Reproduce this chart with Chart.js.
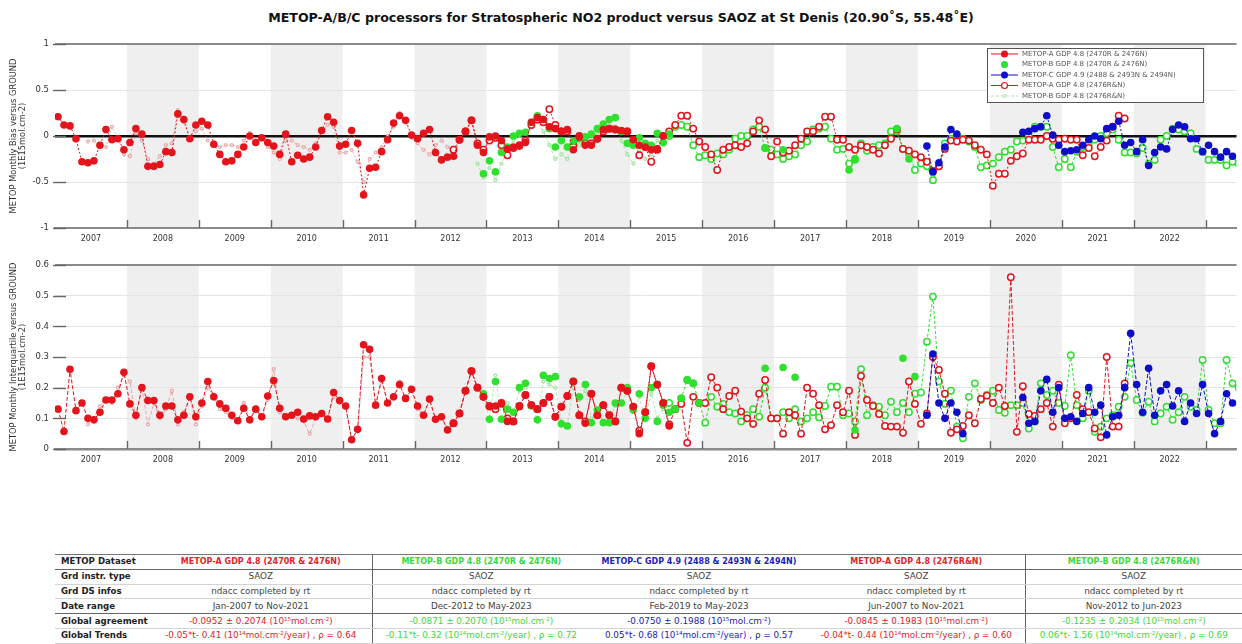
<!DOCTYPE html>
<html>
<head>
<meta charset="utf-8">
<script src="https://cdn.jsdelivr.net/npm/chart.js@4.4.0/dist/chart.umd.min.js"></script>
<style>
  body { margin: 0; background: #fff; width: 1242px; height: 644px; overflow: hidden; position: relative; font-family: 'DejaVu Sans', sans-serif; }
  #title { position: absolute; left: 0; top: 10px; width: 1242px; text-align: center; font-weight: bold; font-size: 12.6px; color: #111; }
  .panel { position: absolute; left: 0; width: 1242px; height: 220px; }
  #topPanel { top: 30px; }
  #botPanel { top: 250px; }
  #stats { position: absolute; left: 55px; top: 554px; width: 1187px; border-collapse: collapse; table-layout: fixed; font-size: 8.8px; color: #444; border-top: 1px solid #777; }
  #stats td { height: 13.8px; line-height: 13px; padding: 0 2px; text-align: center; white-space: nowrap; overflow: hidden; border-bottom: 1px solid #d4d4d4; }
  #stats td.lab { text-align: left; font-weight: bold; color: #222; padding-left: 6px; font-size: 8.6px; }
  #stats tr.head td { font-weight: bold; font-size: 8px; border-bottom: 1px solid #666; }
  #stats tr.head td.lab { font-size: 8.6px; }
  #stats tr.sep td { border-bottom: 1px solid #666; }
  #stats td.vr { border-right: 1px solid #666; }
  #stats sup { font-size: 5.5px; vertical-align: 3px; line-height: 0; }
  .r { color: #e0242b !important; }
  .g { color: #3bd83b !important; }
  .b { color: #1c22b8 !important; }
</style>
</head>
<body>
<div id="title">METOP-A/B/C processors for Stratospheric NO2 product versus SAOZ at St Denis (20.90˚S, 55.48˚E)</div>
<div class="panel" id="topPanel"><canvas id="biasChart"></canvas></div>
<div class="panel" id="botPanel"><canvas id="iqrChart"></canvas></div>

<table id="stats">
  <colgroup><col style="width:95px"><col style="width:222px"><col style="width:218px"><col style="width:218px"><col style="width:217px"><col style="width:217px"></colgroup>
  <tr class="head"><td class="lab">METOP Dataset</td><td class="r vr">METOP-A GDP 4.8 (2470R &amp; 2476N)</td><td class="g">METOP-B GDP 4.8 (2470R &amp; 2476N)</td><td class="b">METOP-C GDP 4.9 (2488 &amp; 2493N &amp; 2494N)</td><td class="r vr">METOP-A GDP 4.8 (2476R&amp;N)</td><td class="g">METOP-B GDP 4.8 (2476R&amp;N)</td></tr>
  <tr><td class="lab">Grd instr. type</td><td class="vr">SAOZ</td><td>SAOZ</td><td>SAOZ</td><td class="vr">SAOZ</td><td>SAOZ</td></tr>
  <tr><td class="lab">Grd DS infos</td><td class="vr">ndacc completed by rt</td><td>ndacc completed by rt</td><td>ndacc completed by rt</td><td class="vr">ndacc completed by rt</td><td>ndacc completed by rt</td></tr>
  <tr class="sep"><td class="lab">Date range</td><td class="vr">Jan-2007 to Nov-2021</td><td>Dec-2012 to May-2023</td><td>Feb-2019 to May-2023</td><td class="vr">Jun-2007 to Nov-2021</td><td>Nov-2012 to Jun-2023</td></tr>
  <tr><td class="lab">Global agreement</td><td class="r vr">-0.0952 ± 0.2074 (10<sup>15</sup>mol.cm<sup>-2</sup>)</td><td class="g">-0.0871 ± 0.2070 (10<sup>15</sup>mol.cm<sup>-2</sup>)</td><td class="b">-0.0750 ± 0.1988 (10<sup>15</sup>mol.cm<sup>-2</sup>)</td><td class="r vr">-0.0845 ± 0.1983 (10<sup>15</sup>mol.cm<sup>-2</sup>)</td><td class="g">-0.1235 ± 0.2034 (10<sup>15</sup>mol.cm<sup>-2</sup>)</td></tr>
  <tr><td class="lab">Global Trends</td><td class="r vr">-0.05*t- 0.41 (10<sup>14</sup>mol.cm<sup>-2</sup>/year) , ρ = 0.64</td><td class="g">-0.11*t- 0.32 (10<sup>14</sup>mol.cm<sup>-2</sup>/year) , ρ = 0.72</td><td class="b">0.05*t- 0.68 (10<sup>14</sup>mol.cm<sup>-2</sup>/year) , ρ = 0.57</td><td class="r vr">-0.04*t- 0.44 (10<sup>14</sup>mol.cm<sup>-2</sup>/year) , ρ = 0.60</td><td class="g">0.06*t- 1.56 (10<sup>14</sup>mol.cm<sup>-2</sup>/year) , ρ = 0.69</td></tr>
</table>

<script>
// ── Axis data ──
const X_MIN = 2007;
const X_MAX = 2023.43;
const YEAR_LABELS = ['2007', '2008', '2009', '2010', '2011', '2012', '2013', '2014', '2015', '2016', '2017', '2018', '2019', '2020', '2021', '2022'];
const SHADED_YEARS = [2008, 2010, 2012, 2014, 2016, 2018, 2020, 2022];
const BOUNDARY_YEARS = [2008, 2009, 2010, 2011, 2012, 2013, 2014, 2015, 2016, 2017, 2018, 2019, 2020, 2021, 2022, 2023];

const SERIES_LABELS = [
  'METOP-A GDP 4.8 (2470R & 2476N)',
  'METOP-B GDP 4.8 (2470R & 2476N)',
  'METOP-C GDP 4.9 (2488 & 2493N & 2494N)',
  'METOP-A GDP 4.8 (2476R&N)',
  'METOP-B GDP 4.8 (2476R&N)'
];

// first month of each monthly series
const START_A1 = '2007-01';
const START_A2 = '2007-06';
const START_B1 = '2012-12';
const START_B2 = '2012-11';
const START_C = '2019-02';

// ── Monthly bias (1E15 mol.cm-2) ──
const BIAS_A1 = [
  0.21, 0.12, 0.11, -0.03, -0.28, -0.29, -0.27, -0.10, 0.07, -0.04, -0.03, -0.15,
  -0.07, 0.08, 0.02, -0.33, -0.33, -0.31, -0.17, -0.18, 0.24, 0.18, -0.03, 0.12,
  0.16, 0.12, -0.09, -0.20, -0.28, -0.27, -0.20, -0.12, 0.00, -0.07, -0.02, -0.07,
  -0.11, -0.20, 0.02, -0.28, -0.21, -0.25, -0.23, -0.12, 0.06, 0.21, 0.15, -0.11,
  -0.09, 0.06, -0.08, -0.64, -0.35, -0.34, -0.17, -0.04, 0.14, 0.22, 0.17, 0.01,
  -0.03, 0.03, 0.07, -0.18, -0.26, -0.23, -0.22, -0.04, 0.05, 0.17, -0.10, -0.18,
  -0.01, 0.00, -0.05, -0.14, -0.12, -0.11, -0.07, 0.15, 0.20, 0.18, 0.10, 0.08,
  0.05, 0.07, -0.15, -0.01, -0.10, -0.10, -0.03, 0.07, 0.08, 0.07, 0.06, 0.05,
  -0.04, -0.10, -0.12, -0.15, -0.14, 0.00
];
const BIAS_A2 = [
  -0.06, -0.05, -0.12, -0.12, 0.10, -0.02, -0.20,
  -0.22, 0.03, -0.05, -0.25, -0.30, -0.22, -0.10, -0.08, 0.28, 0.15, -0.03, 0.05,
  0.08, -0.05, -0.10, -0.12, -0.10, -0.10, -0.12, -0.05, 0.03, -0.05, -0.02, -0.12,
  -0.18, -0.25, -0.05, -0.05, -0.10, -0.12, -0.15, -0.08, 0.05, 0.12, 0.10, -0.18,
  -0.18, -0.15, -0.28, -0.50, -0.25, -0.18, -0.12, 0.00, 0.10, 0.25, 0.15, -0.02,
  -0.08, -0.15, -0.20, -0.10, -0.05, -0.12, -0.15, -0.04, 0.05, 0.17, -0.08, -0.15,
  -0.05, -0.02, -0.10, -0.21, -0.13, -0.10, -0.05, 0.12, 0.18, 0.15, 0.29, 0.12,
  0.05, 0.05, -0.10, 0.00, -0.08, -0.08, -0.03, 0.05, 0.08, 0.07, 0.05, 0.05,
  -0.05, -0.21, -0.12, -0.28, -0.15, 0.00, 0.05, 0.12, 0.22, 0.22, 0.08, -0.06,
  -0.12, -0.20, -0.37, -0.15, -0.12, -0.10, -0.12, -0.08, 0.05, 0.17, 0.07, -0.22,
  -0.06, -0.18, -0.16, -0.10, -0.03, 0.05, 0.05, 0.10, 0.21, 0.21, -0.04, -0.04,
  -0.12, -0.15, -0.10, -0.12, -0.15, -0.19, -0.10, -0.03, 0.07, -0.14, -0.16, -0.20,
  -0.23, -0.28, -0.38, -0.33, -0.14, -0.05, -0.06, -0.04, -0.05, -0.10, -0.15, -0.20,
  -0.54, -0.41, -0.41, -0.27, -0.22, -0.19, -0.04, -0.04, -0.04, 0.00, -0.03, -0.04,
  -0.03, -0.04, -0.04, -0.21, -0.13, -0.22, -0.12, -0.05, 0.10, 0.22, 0.19
];
const BIAS_B1 = [
  -0.41,
  -0.27, -0.39, -0.18, -0.12, 0.00, 0.03, 0.04, 0.15, 0.22, 0.18, 0.08, -0.12,
  -0.05, -0.12, -0.06, -0.03, -0.01, 0.02, 0.08, 0.13, 0.18, 0.20, 0.05, -0.08,
  -0.10, -0.02, -0.08, -0.10, 0.03, -0.07, 0.02, null, null, null, null, null,
  null, null, null, null, null, null, null, null, null, null, -0.13, null,
  null, -0.15, null, null, null, null, null, null, null, null, null, null,
  -0.37, -0.26, null, null, null, null, null, null, 0.08, null, -0.25
];
const BIAS_B2 = [
  -0.30, -0.45,
  -0.35, -0.48, -0.30, -0.15, -0.05, 0.00, 0.05, 0.10, 0.15, 0.05, -0.10, -0.25,
  -0.20, -0.25, -0.15, -0.10, -0.08, -0.05, 0.02, 0.10, 0.15, 0.10, -0.05, -0.20,
  -0.30, -0.15, -0.25, -0.20, -0.05, -0.10, 0.00, 0.10, 0.12, 0.10, -0.10, -0.23,
  -0.21, -0.25, -0.19, -0.20, -0.15, -0.03, 0.00, 0.00, 0.07, 0.10, -0.13, -0.15,
  -0.20, -0.25, -0.22, -0.20, -0.10, -0.06, 0.07, 0.08, 0.10, -0.03, -0.15, -0.14,
  -0.30, -0.25, -0.08, -0.16, -0.12, -0.10, -0.08, 0.05, 0.05, -0.14, -0.19, -0.37,
  -0.30, -0.33, -0.48, -0.33, -0.08, -0.03, 0.00, -0.03, -0.06, -0.12, -0.34, -0.32,
  -0.30, -0.23, -0.17, -0.15, -0.06, -0.05, 0.00, 0.10, 0.10, 0.10, -0.12, -0.34,
  -0.25, -0.34, -0.17, -0.12, -0.10, -0.04, 0.00, 0.03, 0.07, -0.04, -0.18, -0.18,
  -0.19, -0.13, -0.30, -0.26, -0.04, 0.00, 0.08, 0.07, 0.05, 0.03, -0.14, -0.17,
  -0.26, -0.26, -0.26, -0.32, -0.28, -0.30
];
const BIAS_C = [
  -0.11, -0.39, -0.29, -0.12, 0.07, 0.02, null, null, null, null, null,
  null, null, null, null, null, 0.04, 0.05, 0.08, 0.10, 0.22, 0.01, -0.10,
  -0.17, -0.16, -0.15, -0.10, -0.04, 0.00, -0.03, 0.08, 0.10, 0.16, -0.10, -0.07,
  -0.17, -0.04, -0.32, -0.18, -0.12, -0.14, 0.07, 0.12, 0.10, -0.03, -0.03, -0.17,
  -0.10, -0.17, -0.23, -0.17, -0.22
];

// ── Monthly interquartile (1E15 mol.cm-2) ──
const IQR_A1 = [
  0.13, 0.057, 0.26, 0.125, 0.15, 0.10, 0.095, 0.12, 0.16, 0.16, 0.18, 0.25,
  0.147, 0.11, 0.20, 0.158, 0.158, 0.11, 0.14, 0.14, 0.095, 0.11, 0.17, 0.105,
  0.15, 0.22, 0.17, 0.147, 0.133, 0.11, 0.092, 0.133, 0.095, 0.13, 0.105, 0.173,
  0.223, 0.133, 0.105, 0.11, 0.12, 0.098, 0.108, 0.105, 0.116, 0.098, 0.184, 0.158,
  0.14, 0.03, 0.064, 0.34, 0.325, 0.143, 0.23, 0.15, 0.17, 0.21, 0.165, 0.195,
  0.14, 0.11, 0.163, 0.097, 0.105, 0.062, 0.084, 0.116, 0.19, 0.254, 0.20, 0.17,
  0.138, 0.14, 0.147, 0.09, 0.09, 0.138, 0.176, 0.143, 0.13, 0.15, 0.17, 0.105,
  0.138, 0.173, 0.22, 0.11, 0.084, 0.18, 0.11, 0.143, 0.11, 0.09, 0.20, 0.19,
  0.138, 0.05, 0.12, 0.27, 0.21, 0.15, 0.075
];
const IQR_A2 = [
  0.08, 0.10, 0.14, 0.16, 0.15, 0.20, 0.24,
  0.22, 0.10, 0.20, 0.08, 0.15, 0.10, 0.13, 0.19, 0.08, 0.12, 0.17, 0.08,
  0.14, 0.20, 0.17, 0.13, 0.12, 0.10, 0.09, 0.15, 0.10, 0.13, 0.10, 0.16,
  0.26, 0.12, 0.10, 0.11, 0.10, 0.09, 0.05, 0.10, 0.11, 0.10, 0.17, 0.15,
  0.14, 0.03, 0.06, 0.30, 0.30, 0.14, 0.22, 0.15, 0.17, 0.22, 0.16, 0.19,
  0.13, 0.11, 0.16, 0.10, 0.10, 0.07, 0.084, 0.116, 0.19, 0.254, 0.20, 0.17,
  0.14, 0.13, 0.15, 0.10, 0.09, 0.14, 0.176, 0.143, 0.13, 0.15, 0.17, 0.105,
  0.138, 0.173, 0.22, 0.11, 0.09, 0.18, 0.11, 0.143, 0.11, 0.09, 0.20, 0.19,
  0.138, 0.06, 0.12, 0.27, 0.21, 0.15, 0.08, 0.13, 0.147, 0.02, 0.17, 0.15,
  0.15, 0.234, 0.20, 0.13, 0.173, 0.19, 0.122, 0.10, 0.082, 0.18, 0.225, 0.10,
  0.10, 0.05, 0.12, 0.11, 0.05, 0.20, 0.18, 0.143, 0.064, 0.078, 0.143, 0.12,
  0.19, 0.046, 0.238, 0.16, 0.14, 0.114, 0.075, 0.073, 0.073, 0.053, 0.22, 0.147,
  0.082, 0.116, 0.30, 0.258, 0.18, 0.053, 0.064, 0.075, 0.11, 0.084, 0.163, 0.174,
  0.15, 0.20, 0.14, 0.56, 0.056, 0.205, 0.114, 0.108, 0.13, 0.15, 0.073, 0.21,
  0.084, 0.10, 0.176, 0.13, 0.12, 0.067, 0.038, 0.30, 0.073, 0.073, 0.214
];
const IQR_B1 = [
  0.18,
  0.097, 0.22, 0.097, 0.13, 0.12, 0.20, 0.214, 0.14, 0.095, 0.24, 0.23, 0.236,
  0.082, 0.075, 0.22, 0.17, 0.21, 0.086, 0.127, 0.086, 0.086, 0.15, 0.15, 0.20,
  0.127, 0.18, 0.10, 0.20, 0.09, 0.143, 0.12, 0.13, 0.165, 0.225, 0.214, 0.15,
  null, null, null, null, null, null, null, null, null, null, 0.263, null,
  null, 0.266, null, 0.234, null, null, null, null, null, null, null, null,
  null, 0.062, null, null, null, null, null, null, null, 0.296, null, 0.236
];
const IQR_B2 = [
  0.20, 0.17,
  0.10, 0.24, 0.10, 0.15, 0.12, 0.19, 0.20, 0.14, 0.10, 0.22, 0.21, 0.20,
  0.09, 0.08, 0.20, 0.16, 0.19, 0.10, 0.12, 0.09, 0.10, 0.14, 0.15, 0.19,
  0.12, 0.17, 0.10, 0.18, 0.10, 0.13, 0.15, 0.13, 0.165, 0.225, 0.214, 0.15,
  0.086, 0.17, 0.138, 0.147, 0.12, 0.116, 0.09, 0.11, 0.13, 0.105, 0.20, 0.10,
  0.10, 0.12, 0.10, 0.13, 0.09, 0.10, 0.12, 0.103, 0.14, 0.203, 0.203, 0.11,
  0.116, 0.09, 0.26, 0.11, 0.143, 0.138, 0.11, 0.154, 0.12, 0.15, 0.12, 0.18,
  0.184, 0.35, 0.497, 0.22, 0.147, 0.19, 0.073, 0.035, 0.17, 0.214, 0.16, 0.176,
  0.19, 0.127, 0.118, 0.143, 0.143, 0.15, 0.067, 0.09, 0.214, 0.176, 0.19, 0.15,
  0.14, 0.306, 0.143, 0.10, 0.19, 0.056, 0.073, 0.10, 0.11, 0.138, 0.17, 0.28,
  0.16, 0.118, 0.154, 0.09, 0.116, 0.138, 0.095, 0.12, 0.17, 0.138, 0.127, 0.29,
  0.127, 0.084, 0.084, 0.29, 0.214, 0.20
];
const IQR_C = [
  0.11, 0.31, 0.15, 0.10, 0.15, 0.12, 0.05, null, null, null, null,
  null, null, null, null, null, 0.168, 0.084, 0.09, 0.19, 0.227, 0.12, 0.20,
  0.10, 0.105, 0.09, 0.116, 0.20, 0.12, 0.143, 0.046, 0.105, 0.11, 0.20, 0.377,
  0.21, 0.12, 0.263, 0.11, 0.19, 0.21, 0.14, 0.19, 0.09, 0.15, 0.116, 0.21,
  0.116, 0.05, 0.09, 0.18, 0.15
];

// ── Colours ──
const RED = '#e3141b';
const GREEN = '#2fe02f';
const BLUE = '#0e0ec8';
const RED_FAINT = 'rgba(215,120,120,0.55)';
const GREEN_FAINT = 'rgba(120,215,120,0.6)';
const A2_FULL_FROM = 2012.5;   // before this the 2476R&N series is drawn faint
const B2_FULL_FROM = 2015.5;

Chart.defaults.font.family = "'DejaVu Sans', sans-serif";
Chart.defaults.color = '#333';

function monthPoints(start, values) {
  const [y0, m0] = start.split('-').map(Number);
  return values.map((v, i) => ({ x: y0 + (m0 - 1 + i + 0.5) / 12, y: v }));
}

function buildDatasets(a1, b1, c, a2, b2, dash) {
  const early = (ctx, from) => ctx.raw && ctx.raw.x < from;
  return [
    {
      label: SERIES_LABELS[0], data: monthPoints(START_A1, a1),
      borderColor: RED, borderWidth: 1, borderDash: dash,
      pointRadius: 3.8, pointBackgroundColor: RED, pointBorderColor: RED, pointBorderWidth: 0,
      legendLine: RED, legendRadius: 3.5, legendFill: RED
    },
    {
      label: SERIES_LABELS[1], data: monthPoints(START_B1, b1), showLine: false,
      borderColor: GREEN, pointRadius: 3.8, pointBackgroundColor: GREEN, pointBorderColor: GREEN, pointBorderWidth: 0,
      legendLine: null, legendRadius: 3.5, legendFill: GREEN
    },
    {
      label: SERIES_LABELS[2], data: monthPoints(START_C, c),
      borderColor: BLUE, borderWidth: 1, borderDash: dash,
      pointRadius: 3.8, pointBackgroundColor: BLUE, pointBorderColor: BLUE, pointBorderWidth: 0,
      legendLine: BLUE, legendRadius: 3.5, legendFill: BLUE
    },
    {
      label: SERIES_LABELS[3], data: monthPoints(START_A2, a2),
      borderColor: RED, borderWidth: 1, borderDash: dash,
      segment: { borderColor: ctx => ctx.p0.parsed.x < A2_FULL_FROM ? RED_FAINT : RED },
      pointRadius: ctx => early(ctx, A2_FULL_FROM) ? 1.4 : 3.2,
      pointBackgroundColor: '#fff',
      pointBorderColor: ctx => early(ctx, A2_FULL_FROM) ? RED_FAINT : RED,
      pointBorderWidth: 1.5,
      legendLine: RED, legendRadius: 3, legendFill: '#fff', legendStroke: RED
    },
    {
      label: SERIES_LABELS[4], data: monthPoints(START_B2, b2),
      borderColor: GREEN, borderWidth: 1, borderDash: [3, 2],
      segment: { borderColor: ctx => ctx.p0.parsed.x < B2_FULL_FROM ? GREEN_FAINT : GREEN },
      pointRadius: ctx => early(ctx, B2_FULL_FROM) ? 1.4 : 3.2,
      pointBackgroundColor: '#fff',
      pointBorderColor: ctx => early(ctx, B2_FULL_FROM) ? GREEN_FAINT : GREEN,
      pointBorderWidth: 1.5,
      legendLine: GREEN_FAINT, legendDash: [3, 2], legendRadius: 1.5, legendFill: '#fff', legendStroke: GREEN_FAINT
    }
  ];
}

// ── Plugins ──
const yearBands = {
  id: 'yearBands',
  beforeDraw(chart) {
    const { ctx, chartArea: a, scales: { x } } = chart;
    ctx.save();
    ctx.fillStyle = '#efefef';
    SHADED_YEARS.forEach(yr => {
      const x1 = Math.max(a.left, x.getPixelForValue(yr));
      const x2 = Math.min(a.right, x.getPixelForValue(yr + 1));
      if (x2 > x1) ctx.fillRect(x1, a.top, x2 - x1, a.bottom - a.top);
    });
    ctx.restore();
  }
};

const innerTicks = {
  id: 'innerTicks',
  afterDraw(chart) {
    const { ctx, chartArea: a, scales: { x, y } } = chart;
    ctx.save();
    ctx.strokeStyle = '#666';
    ctx.lineWidth = 1.4;
    BOUNDARY_YEARS.forEach(yr => {
      const px = Math.round(x.getPixelForValue(yr)) + 0.5;
      if (px > a.right) return;
      ctx.beginPath(); ctx.moveTo(px, a.bottom); ctx.lineTo(px, a.bottom - 8); ctx.stroke();
    });
    y.ticks.forEach(t => {
      const py = Math.round(y.getPixelForValue(t.value)) + 0.5;
      ctx.beginPath(); ctx.moveTo(a.left - 2, py); ctx.lineTo(a.left + 11, py); ctx.stroke();
    });
    ctx.restore();
  }
};

const boxLegend = {
  id: 'boxLegend',
  afterDraw(chart) {
    const { ctx, chartArea: a } = chart;
    const x0 = a.left + 932, y0 = a.top + 4, w = 216, h = 54;
    ctx.save();
    ctx.fillStyle = '#fff';
    ctx.fillRect(x0, y0, w, h);
    ctx.strokeStyle = '#555';
    ctx.lineWidth = 1;
    ctx.strokeRect(x0 + 0.5, y0 + 0.5, w, h);
    ctx.font = "7px 'DejaVu Sans', sans-serif";
    ctx.textBaseline = 'middle';
    chart.data.datasets.forEach((ds, i) => {
      const yy = y0 + 6 + i * 10.5;
      if (ds.legendLine) {
        ctx.strokeStyle = ds.legendLine;
        ctx.setLineDash(ds.legendDash || []);
        ctx.beginPath(); ctx.moveTo(x0 + 4, yy); ctx.lineTo(x0 + 31, yy); ctx.stroke();
        ctx.setLineDash([]);
      }
      ctx.beginPath();
      ctx.arc(x0 + 17.5, yy, ds.legendRadius, 0, Math.PI * 2);
      ctx.fillStyle = ds.legendFill;
      ctx.fill();
      if (ds.legendStroke) { ctx.strokeStyle = ds.legendStroke; ctx.lineWidth = 1.2; ctx.stroke(); ctx.lineWidth = 1; }
      ctx.fillStyle = '#555';
      ctx.fillText(ds.label, x0 + 35, yy);
    });
    ctx.restore();
  }
};

function panelOptions(yMin, yMax, step, zeroColor, yTitle, padTop, xAxisHeight) {
  return {
    responsive: true,
    maintainAspectRatio: false,
    animation: false,
    layout: { padding: { top: padTop, right: 0, bottom: 0, left: 0 } },
    plugins: { legend: { display: false }, tooltip: { enabled: false } },
    elements: { line: { tension: 0, fill: false } },
    scales: {
      x: {
        type: 'linear', min: X_MIN, max: X_MAX,
        afterBuildTicks: s => { s.ticks = YEAR_LABELS.map(yr => ({ value: Number(yr) + 0.5 })); },
        afterFit: s => { s.height = xAxisHeight; },
        ticks: { autoSkip: false, maxRotation: 0, padding: 6, font: { size: 8 }, color: '#333', callback: (v, i) => YEAR_LABELS[i] },
        grid: { color: 'rgba(0,0,0,0)', drawTicks: false },
        border: { display: true, color: '#8a8a8a', width: 2 }
      },
      y: {
        min: yMin, max: yMax,
        afterFit: s => { s.width = 55; },
        ticks: { stepSize: step, padding: 6, font: { size: 8.5 }, color: '#333', callback: v => String(Math.round(v * 10) / 10) },
        grid: {
          drawTicks: false,
          color: c => c.tick.value === yMax ? '#8a8a8a' : (Math.abs(c.tick.value) < 1e-9 ? zeroColor : '#e4e4e4'),
          lineWidth: c => c.tick.value === yMax ? 2 : (Math.abs(c.tick.value) < 1e-9 ? 2.5 : 1)
        },
        border: { display: false },
        title: { display: true, text: yTitle, font: { size: 8.3, lineHeight: 1.05 }, color: '#333', padding: { top: 9.5, bottom: 0 } }
      }
    }
  };
}

// ── Bias panel ──
new Chart(document.getElementById('biasChart'), {
  type: 'line',
  data: { datasets: buildDatasets(BIAS_A1, BIAS_B1, BIAS_C, BIAS_A2, BIAS_B2, [2, 2]) },
  options: panelOptions(-1, 1, 0.5, '#111', ['METOP Monthly Bias versus GROUND', '(1E15mol.cm-2)'], 14, 22),
  plugins: [yearBands, innerTicks, boxLegend]
});

// ── Interquartile panel ──
new Chart(document.getElementById('iqrChart'), {
  type: 'line',
  data: { datasets: buildDatasets(IQR_A1, IQR_B1, IQR_C, IQR_A2, IQR_B2, [4, 2]) },
  options: panelOptions(0, 0.6, 0.1, '#8a8a8a', ['METOP Monthly Interquartile versus GROUND', '(1E15mol.cm-2)'], 15, 21),
  plugins: [yearBands, innerTicks]
});
</script>
</body>
</html>
